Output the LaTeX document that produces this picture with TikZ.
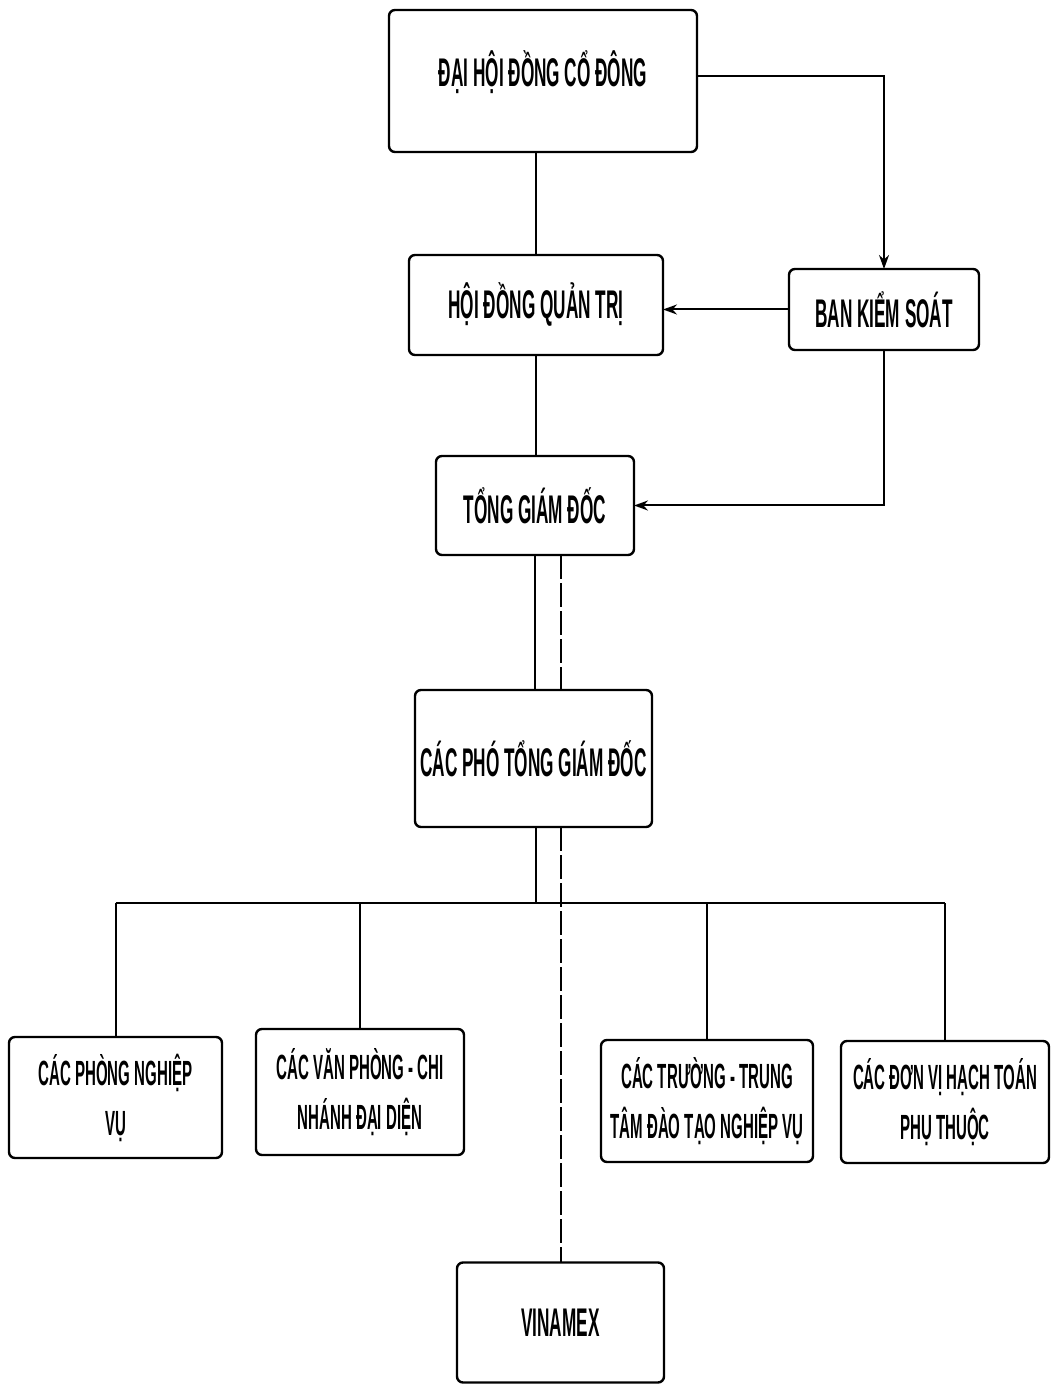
\documentclass[tikz,border=0pt]{standalone}
\usepackage{fontspec}
\newfontfamily\narrowfont[FakeStretch=0.43]{Liberation Sans}
\usetikzlibrary{arrows.meta}

\begin{document}
\begin{tikzpicture}[x=0.5pt,y=-0.5pt,
    box/.style = {rectangle,draw=black,line width=1.2pt,rounded corners=3pt,inner sep=1pt,outer sep=0mm,align=center,font=\narrowfont\bfseries\fontsize{20}{26}\selectfont},
    lowbox/.style = {box,font=\narrowfont\bfseries\fontsize{17.5}{25}\selectfont},
    link/.style = {line width=1pt},
    arr/.style = {link,-{Stealth[length=7pt,width=5pt]}},
    dashline/.style = {link,dash pattern=on 12pt off 2pt}]
\fill[white] (0,0) rectangle (1051,1384);
\useasboundingbox (0,0) rectangle (1051,1384);
\node[box,minimum width=154pt,minimum height=71pt,text depth=12pt] (dhdcd) at (543,81) {ĐẠI HỘI ĐỒNG CỔ ĐÔNG};
\node[box,minimum width=127pt,minimum height=50pt] (hdqt) at (536,305) {HỘI ĐỒNG QUẢN TRỊ};
\node[box,minimum width=95pt,minimum height=40.5pt] (bks) at (884,309.5) {BAN KIỂM SOÁT};
\node[box,minimum width=99pt,minimum height=49.5pt] (tgd) at (535,505.5) {TỔNG GIÁM ĐỐC};
\node[box,minimum width=118.5pt,minimum height=68.5pt] (ptgd) at (533.5,758.5) {CÁC PHÓ TỔNG GIÁM ĐỐC};
\foreach \name/\cx/\cy/\w/\h/\txt in {pnv/115.5/1097.5/106.5/60.5/{CÁC PHÒNG NGHIỆP\\VỤ},
    vpcn/360/1092/104/63/{CÁC VĂN PHÒNG - CHI\\NHÁNH ĐẠI DIỆN},
    ttdt/707/1101/106/61/{CÁC TRƯỜNG - TRUNG\\TÂM ĐÀO TẠO NGHIỆP VỤ},
    dvht/945/1102/104/61/{CÁC ĐƠN VỊ HẠCH TOÁN\\PHỤ THUỘC}}
    \node[lowbox,minimum width=\w pt,minimum height=\h pt] (\name) at (\cx,\cy) {\txt};
\node[box,minimum width=103.5pt,minimum height=60pt] (vinamex) at (560.5,1322.5) {VINAMEX};
\coordinate (bus) at (536,903);
\draw[link] (dhdcd.south -| hdqt.north) -- (hdqt.north);
\draw[link] (hdqt.south) -- (hdqt.south |- tgd.north);
\draw[link] (tgd.south) -- (tgd.south |- ptgd.north);
\draw[link] (bus |- ptgd.south) -- (bus);
\draw[link] (pnv.north |- bus) -- (dvht.north |- bus);
\foreach \name in {pnv,vpcn,ttdt,dvht}
    \draw[link] (\name.north |- bus) -- (\name.north);
\draw[dashline] (vinamex.north |- tgd.south) -- (vinamex.north |- ptgd.north);
\draw[dashline] (vinamex.north |- ptgd.south) -- (vinamex.north);
\draw[arr] ([yshift=2.5pt]dhdcd.east) -| (bks.north);
\draw[arr] (bks.west) -- (bks.west -| hdqt.east);
\draw[arr] (bks.south) |- (tgd.east);
\end{tikzpicture}
\end{document}
